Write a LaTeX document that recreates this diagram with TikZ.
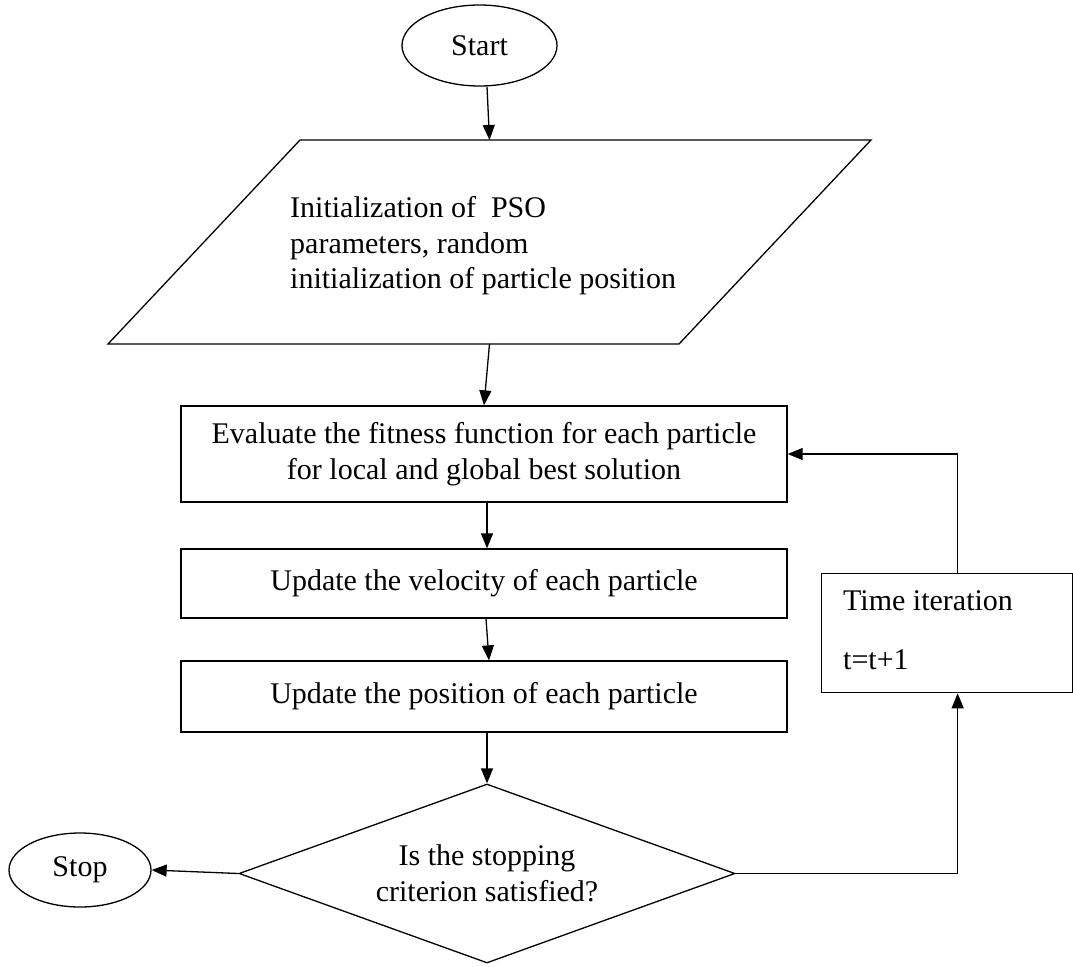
\documentclass[tikz,border=0pt]{standalone}
\usepackage{fontspec}
\setmainfont{Liberation Serif}
\usetikzlibrary{shapes.geometric,arrows.meta}
\begin{document}
\begin{tikzpicture}[x=1pt,y=-1pt,
  every node/.style={font=\fontsize{30}{35.5}\selectfont, inner sep=0pt},
  arr/.style={line width=1.3pt, -{Triangle[length=15pt,width=12pt]}},
  shp/.style={draw, line width=1.3pt},
  box/.style={shp, minimum width=606pt, align=center},
  term/.style={shp, ellipse},
  ]
\useasboundingbox (0,0) rectangle (1073,966);

% terminals
\node[term, minimum width=155pt, minimum height=81pt] (start) at (479.5,45.5) {Start};
\node[term, minimum width=142pt, minimum height=74pt] (stop) at (80,870) {Stop};

% input/parameter block (parallelogram)
\draw[shp, line join=miter] (108,344) -- (300,140) -- (871,140) -- (679,344) -- cycle;
\coordinate (initN) at (489.5,140);
\coordinate (initS) at (489.5,344);
\node[anchor=west, align=left] (inittext) at (290,246)
  {Initialization of~ PSO\\parameters, random\\initialization of particle position};

% process steps
\node[box, minimum height=96pt] (eval) at (484,454)
  {Evaluate the fitness function for each particle\\for local and global best solution};
\node[box, minimum height=69pt] (vel) at (484,583.5) {Update the velocity of each particle};
\node[box, minimum height=71pt] (pos) at (484,696.5) {Update the position of each particle};

% decision
\node[shp, diamond, aspect=2.7, minimum width=496pt, minimum height=179pt, align=center] (test)
  at (487,873.5) {Is the stopping\\criterion satisfied?};

% iteration counter
\node[shp, minimum width=251pt, minimum height=119pt, anchor=north west] (iter) at (821,573) {};
\node[anchor=base west] (itertitle) at (843,610) {Time iteration};
\node[anchor=base west] (iterstep) at (843,669) {t=t+1};

% flow
\draw[arr] ([xshift=7.5pt]start.south) -- (initN);
\draw[arr] (initS) -- (eval.north);
\draw[arr] ([xshift=3pt]eval.south) -- ([xshift=3pt]vel.north);
\draw[arr] ([xshift=2pt]vel.south) -- ([xshift=5pt]pos.north);
\draw[arr] ([xshift=3pt]pos.south) -- (test.north);
\draw[arr] (test.west) -- (stop.east);
\draw[arr] (test.east) -| ([xshift=10.5pt]iter.south);
\draw[arr] ([xshift=10.5pt]iter.north) |- (eval.east);
\end{tikzpicture}
\end{document}
